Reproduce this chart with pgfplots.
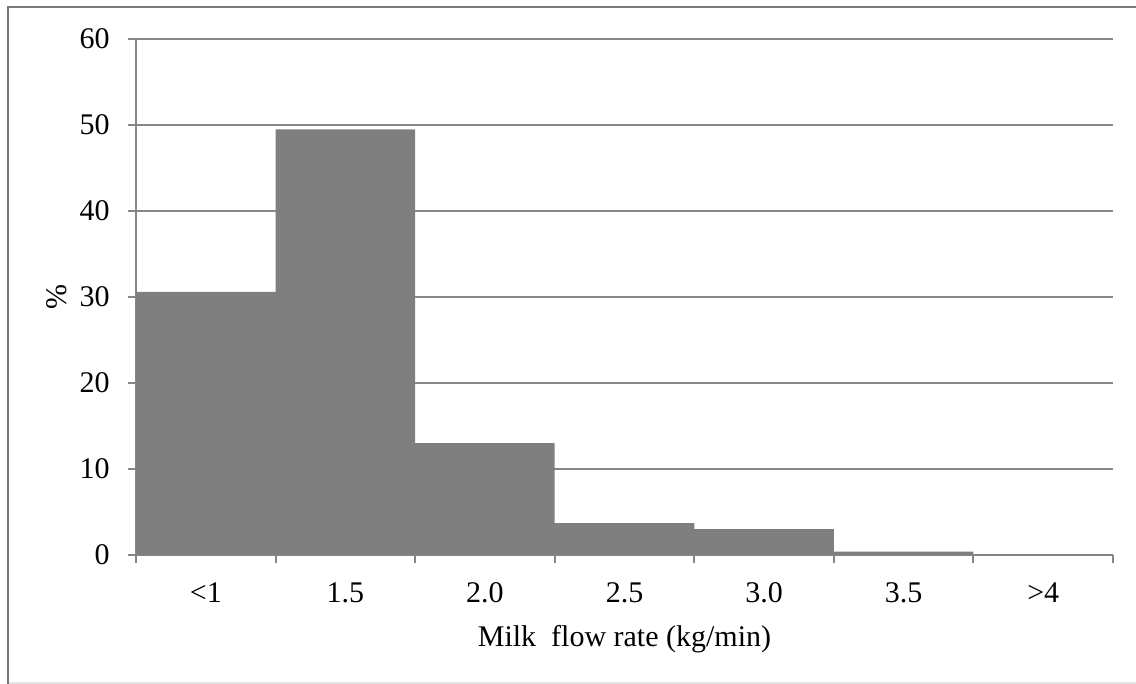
\documentclass[border=0pt]{standalone}
\usepackage{fontspec}
\setmainfont{Liberation Serif}
\usepackage{pgfplots}
\pgfplotsset{compat=1.18}
\definecolor{barc}{HTML}{7F7F7F}
\definecolor{gridc}{HTML}{868686}
\begin{document}
\begin{tikzpicture}[x=1pt,y=1pt]
\useasboundingbox (0,0) rectangle (568,342);
\draw[gray!20, line width=0.6pt] (4,0.5) -- (568,0.5);
\draw[gridc!90!black, line width=1pt] (4,0) -- (4,338.5) -- (568,338.5);
\begin{axis}[
  at={(68pt,64.5pt)}, anchor=south west,
  scale only axis, width=488.5pt, height=258pt,
  xmin=0, xmax=7, ymin=0, ymax=60,
  enlargelimits=false,
  axis x line=bottom, axis y line=left,
  axis line style={draw=gridc, line width=1pt, -},
  ytick={0,10,...,60},
  xtick={0,1,...,7},
  xticklabels={{<1},{1.5},{2.0},{2.5},{3.0},{3.5},{>4},{}},
  tick align=outside,
  major tick length=4pt,
  tick style={draw=gridc, line width=1pt},
  ymajorgrids,
  grid style={draw=gridc, line width=1pt},
  ticklabel style={font=\fontsize{15}{18}\selectfont},
  /pgf/number format/assume math mode=true,
  xticklabel style={anchor=base, xshift=34.9pt, yshift=-20pt},
  yticklabel style={anchor=east, inner sep=0pt, xshift=-9pt},
  xlabel={Milk\ \ flow rate (kg/min)},
  ylabel={\%},
  label style={font=\fontsize{15}{18}\selectfont},
  xlabel style={at={(axis description cs:0.5,0)}, anchor=base, yshift=-46pt},
  ylabel style={at={(axis description cs:-0.0809,0.5)}, anchor=center, rotate=0},
]
\addplot[ybar interval, fill=barc, draw=none] coordinates {
(0,30.6) (1,49.5) (2,13.0) (3,3.7) (4,3.0) (5,0.4) (6,0.05) (7,0.05)
};
\end{axis}
\end{tikzpicture}
\end{document}
